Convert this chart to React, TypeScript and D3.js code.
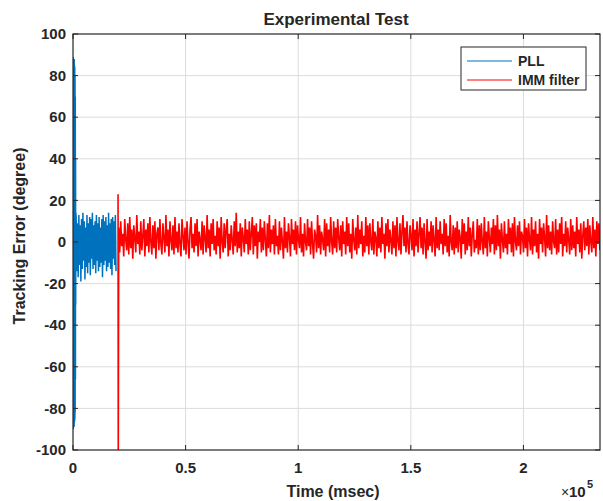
import * as d3 from "d3";

// tracking error samples (degrees)
const pllSpike = [0, 89, -90, 88, -89, 87, -88, 86, -89, 88, -87, 85, -86, 84, -85, 80, -82, 70, -66, 40, -30, 14];
const pllSpikeStep = 60;
const pllValues = [
  12, -14, 9, -17, 13, -11, 8, -19, 11, -13, 14, -9, 10, -18, 7, -12, 13, -15,
  9, -10, 12, -16, 11, -8, 14, -13, 8, -11, 10, -15, 13, -9, 9, -14, 12, -12,
  7, -10, 11, -17, 13, -11, 10, -9, 12, -14, 8, -12, 14, -10, 9, -13, 11, -16,
  12, -8, 10, -11, 13, -14
];
const pllStep = 300;
const pllStart = 1400;

const immJump = [23, -110];
const immJumpTime = 20000;
const immValues = [
  7, -5, 10, -2, 4, -7, 11, 1, -4, 9, -6, 12,
  -3, 6, -8, 8, 2, -5, 13, -1, 5, -6, 10, -4,
  3, 11, -7, 6, -2, 9, -5, 12, 0, -6, 8, -3,
  10, -8, 4, 7, -4, 11, -1, -6, 9, 2, -5, 13,
  -2, 6, -7, 10, 1, -4, 8, -6, 12, -3, 5, -5,
  9, -1, -7, 11, 3, -4, 7, -6, 10, 0, -8, 6,
  12, -3, 4, -5, 9, -2, 11, -7, 5, 1, -4, 10,
  -6, 8, 2, -5, 13, -3, 6, -7, 9, -1, 11, -4,
  3, -6, 10, -2, 7, -8, 12, 0, -5, 9, -3, 6,
  11, -7, 4, -4, 8, 1, -6, 10, -2, 14, -5, 5,
  -3, 9, -7, 7, 2, -5, 11, -1, 6, -6, 10, -4,
  4, 12, -6, 8, -2, 9, -8, 5, 0, 11, -5, 7,
  -4, 10, 1, -7, 9, -3, 13, -5, 6, -1, 8, -6,
  11, -2, 3, -6, 10, -4, 7, 0, -8, 12, -3, 5,
  -5, 9, 2, -7, 11, -1, 6, -4, 10, -6, 8, 1,
  -3, 12, -5, 4, -7, 9, 0, -4, 11, -2, 7, -6,
  10, -1, -8, 6, 3, -5, 13, -3, 8, -6, 5, 1,
  -4, 11, -7, 9, -2, 6, -5, 12, 0, -6, 10, -3,
  7, -5, 11, 2, -4, 8, -7, 10, -1, 5, -6, 12,
  -2, 9, -5, 4, -8, 11, 1, -4, 7, -6, 13, -3,
  6, -1, 10, -7, 3, -5, 12, -2, 8, -6, 9, 0,
  -4, 11, -6, 5, 2, -7, 10, -3, 7, -5, 12, -1,
  4, -8, 9, -2, 11, -5, 6, 1, -6, 10, -3, 8,
  -7, 12, 0, -4, 9, -6, 5, 13, -2, 7, -5, 10,
  -1, -6, 8, 3, -4, 11, -7, 6, -2, 10, -5, 4,
  12, -3, 7, -6, 9, 0, -8, 11, -4, 5, -2, 10,
  -5, 8, 1, -7, 12, -3, 6, -4, 10, -1, 4, -6,
  11, -2, 9, -5, 3, -7, 13, 0, -4, 8, -6, 7,
  -3, 10, -5, 6, 2, -8, 11, -1, 9, -6, 5, -4,
  12, -2, 7, -7, 4, 10, -5, 1, -3, 11, -6, 8,
  -4, 9, 0, -6, 12, -3, 5, -7, 10, 2, -5, 7,
  -1, 11, -6, 8, -4, 13, -2, 6, -8, 9, 1, -5,
  10, -3, 4, -6, 11, -1, 7, -5, 9, -7, 12, 0,
  -4, 8, -2, 10, -6, 5, 3, -5, 11, -3, 7, -7,
  9, 1, -4, 12, -6, 6, -2, 10, -5, 4, -8, 11,
  -1, 7, -5, 9, 2, -7, 13, -3, 8, -4, 5, -6,
  10, 0, -3, 11, -6, 6, -5, 9, -1, 12, -7, 4,
  -2, 10, -5, 7, 1, -6, 11, -4, 8, -3, 5, -7,
  12, -1, 6, -5, 9, -8, 3, 10, -4, 7, -2, 11,
  -6, 8, 0, -5, 12, -3, 6, -7, 10, -1, 9, -4
];
const immStep = 446;
const immStart = 20300;

const xTicks = [0, 50000, 100000, 150000, 200000];
const yTicks = [-100, -80, -60, -40, -20, 0, 20, 40, 60, 80, 100];
const seriesNames = ["PLL", "IMM filter"];
const seriesColors = ["#0072BD", "#FF0000"];

const W = 603, H = 501;
const ml = 73, mr = 3, mt = 34, mb = 51;
const font = "Arial, 'Liberation Sans', Helvetica, sans-serif";
const ink = "#262626";

export default function App() {
  const x = d3.scaleLinear([0, 234000], [ml, W - mr]);
  const y = d3.scaleLinear([-100, 100], [H - mb, mt]);

  const pll: [number, number][] = [
    ...pllSpike.map((v, i) => [i * pllSpikeStep, v] as [number, number]),
    ...pllValues.map((v, i) => [pllStart + i * pllStep, v] as [number, number]),
  ];
  const imm: [number, number][] = [
    ...immJump.map((v, i) => [immJumpTime + i * 100, v] as [number, number]),
    ...immValues.map((v, i) => [immStart + i * immStep, v] as [number, number]),
  ];
  const line = d3.line<[number, number]>(d => x(d[0]), d => y(d[1]));

  const x0 = x.range()[0], x1 = x.range()[1];
  const y0 = y.range()[0], y1 = y.range()[1];

  return (
    <svg width={W} height={H} style={{ position: "absolute", left: 0, top: 0, background: "#fff" }}
      fontFamily={font}>
      <defs>
        <clipPath id="plot">
          <rect x={x0} y={y1} width={x1 - x0} height={y0 - y1} />
        </clipPath>
      </defs>
      <rect x={0} y={0} width={W} height={H} fill="#fff" />
      {/* grid */}
      <g stroke="#dcdcdc" strokeWidth={1}>
        {xTicks.slice(1).map(t => (
          <line key={t} x1={x(t)} x2={x(t)} y1={y1} y2={y0} />
        ))}
        {yTicks.slice(1, -1).map(t => (
          <line key={t} x1={x0} x2={x1} y1={y(t)} y2={y(t)} />
        ))}
      </g>
      {/* data */}
      <g clipPath="url(#plot)" fill="none">
        <path d={line(imm) ?? ""} stroke={seriesColors[1]} strokeWidth={1.6} />
        <path d={line(pll) ?? ""} stroke={seriesColors[0]} strokeWidth={1.5} />
      </g>
      {/* box + ticks */}
      <rect x={x0} y={y1} width={x1 - x0} height={y0 - y1} fill="none" stroke={ink} strokeWidth={1.2} />
      <g stroke={ink} strokeWidth={1}>
        {xTicks.map(t => (
          <g key={t}>
            <line x1={x(t)} x2={x(t)} y1={y0} y2={y0 - 5} />
            <line x1={x(t)} x2={x(t)} y1={y1} y2={y1 + 5} />
          </g>
        ))}
        {yTicks.map(t => (
          <g key={t}>
            <line x1={x0} x2={x0 + 5} y1={y(t)} y2={y(t)} />
            <line x1={x1} x2={x1 - 5} y1={y(t)} y2={y(t)} />
          </g>
        ))}
      </g>
      <g fill={ink} fontSize={15} fontWeight="bold">
        {xTicks.map(t => (
          <text key={t} x={x(t)} y={y0 + 23} textAnchor="middle">{d3.format("~g")(t / 1e5)}</text>
        ))}
        {yTicks.map(t => (
          <text key={t} x={x0 - 7} y={y(t)} dy="0.35em" textAnchor="end">{t}</text>
        ))}
        <text x={336} y={25} textAnchor="middle" fontSize={17}>Experimental Test</text>
        <text x={333} y={497} textAnchor="middle" fontSize={16}>Time (msec)</text>
        <text transform={`translate(25,236) rotate(-90)`} textAnchor="middle" fontSize={16}>
          Tracking Error (degree)
        </text>
        <text x={561} y={497} fontSize={14} fontWeight="normal">×</text>
        <text x={569} y={497} fontSize={15}>10</text>
        <text x={587} y={488} fontSize={11}>5</text>
      </g>
      {/* legend */}
      <g>
        <rect x={461} y={47} width={125} height={43} fill="#fff" stroke={ink} strokeWidth={1} />
        {seriesNames.map((n, i) => (
          <g key={n} transform={`translate(467,${61 + i * 19})`}>
            <line x1={0} x2={45} y1={0} y2={0} stroke={seriesColors[i]} strokeWidth={1} />
            <text x={51} y={0} dy="0.35em" fontSize={14} fontWeight="bold" fill={ink}>{n}</text>
          </g>
        ))}
      </g>
    </svg>
  );
}
